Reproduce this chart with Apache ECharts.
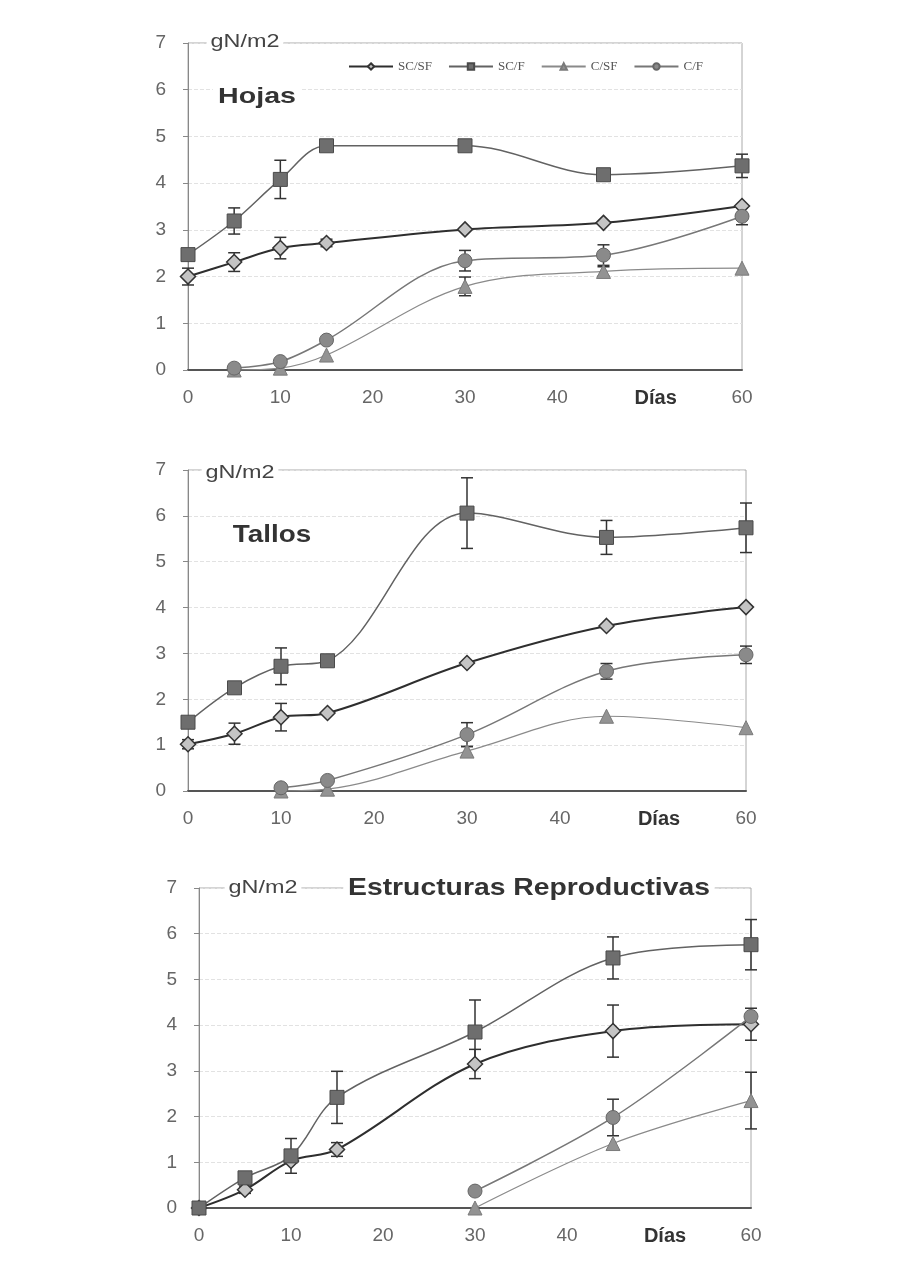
<!DOCTYPE html>
<html><head><meta charset="utf-8">
<script src="https://cdn.jsdelivr.net/npm/echarts@6/dist/echarts.min.js"></script>
<style>html,body{margin:0;padding:0;background:#fff}#c{width:916px;height:1270px}</style>
</head><body><div id="c"></div>
<script>
// ---------------- data ----------------
const days = [0, 5, 10, 15, 30, 45, 60];
const xTickValues = [0, 10, 20, 30, 40, 50, 60];
const xTickLabels = ['0', '10', '20', '30', '40', 'Días', '60'];
const seriesNames = ['SC/SF', 'SC/F', 'C/SF', 'C/F'];
const panelTitles = ['Hojas', 'Tallos', 'Estructuras Reproductivas'];
const yUnit = 'gN/m2';

// Hojas
const hojasSCSF    = [2.00, 2.31, 2.61, 2.72, 3.01, 3.15, 3.51];
const hojasSCSFErr = [0.18, 0.20, 0.23, 0.08, null, null, null];
const hojasSCF     = [2.47, 3.19, 4.08, 4.80, 4.80, 4.18, 4.37];
const hojasSCFErr  = [0.10, 0.28, 0.41, null, null, null, 0.25];
const hojasCSF     = [null, 0.00, 0.04, 0.32, 1.79, 2.11, 2.18];
const hojasCSFErr  = [null, null, null, null, 0.20, 0.10, null];
const hojasCF      = [null, 0.04, 0.18, 0.64, 2.34, 2.46, 3.29];
const hojasCFErr   = [null, null, null, null, 0.22, 0.22, 0.18];

// Tallos
const tallosSCSF    = [1.02, 1.25, 1.61, 1.70, 2.79, 3.60, 4.01];
const tallosSCSFErr = [0.10, 0.23, 0.30, null, null, null, null];
const tallosSCF     = [1.50, 2.25, 2.72, 2.84, 6.06, 5.53, 5.74];
const tallosSCFErr  = [null, null, 0.40, null, 0.77, 0.37, 0.54];
const tallosCSF     = [null, null, 0.00, 0.04, 0.87, 1.63, 1.38];
const tallosCSFErr  = [null, null, null, null, 0.10, null, null];
const tallosCF      = [null, null, 0.07, 0.23, 1.23, 2.61, 2.97];
const tallosCFErr   = [null, null, null, null, 0.26, 0.17, 0.19];

// Estructuras Reproductivas
const erSCSF    = [0.00, 0.40, 1.03, 1.28, 3.15, 3.87, 4.02];
const erSCSFErr = [null, 0.08, null, 0.15, 0.32, 0.57, 0.35];
const erSCF     = [0.00, 0.66, 1.14, 2.42, 3.85, 5.47, 5.76];
const erSCFErr  = [null, null, 0.38, 0.57, 0.70, 0.46, 0.55];
const erCSF     = [null, null, null, null, 0.00, 1.41, 2.35];
const erCSFErr  = [null, null, null, null, null, null, 0.62];
const erCF      = [null, null, null, null, 0.37, 1.98, 4.19];
const erCFErr   = [null, null, null, null, null, 0.40, null];

const panelValues = [
  [hojasSCSF, hojasSCF, hojasCSF, hojasCF],
  [tallosSCSF, tallosSCF, tallosCSF, tallosCF],
  [erSCSF, erSCF, erCSF, erCF]
];
const panelErrors = [
  [hojasSCSFErr, hojasSCFErr, hojasCSFErr, hojasCFErr],
  [tallosSCSFErr, tallosSCFErr, tallosCSFErr, tallosCFErr],
  [erSCSFErr, erSCFErr, erCSFErr, erCFErr]
];

// ---------------- layout / style ----------------
const grids = [
  {left: 188, top: 43,  width: 554, height: 327},
  {left: 188, top: 470, width: 558, height: 321},
  {left: 199, top: 888, width: 552, height: 320}
];
const seriesStyle = [
  {symbol: 'diamond',  size: 15, fill: '#c4c4c4', border: '#333', bw: 1.5, line: '#2e2e2e', lw: 2},
  {symbol: 'rect',     size: 14, fill: '#6e6e6e', border: '#4a4a4a', bw: 1, line: '#626262', lw: 1.5},
  {symbol: 'triangle', size: 14, fill: '#939393', border: '#7a7a7a', bw: 1, line: '#8a8a8a', lw: 1.2},
  {symbol: 'circle',   size: 14, fill: '#8a8a8a', border: '#666', bw: 1, line: '#777', lw: 1.5}
];
const FONT = 'Liberation Sans, Arial, sans-serif';

function pairs(vals) {
  return days.map((d, i) => vals[i] == null ? null : [d, vals[i]]).filter(p => p);
}
function errPairs(vals, e) {
  return days.map((d, i) => (vals[i] == null || e[i] == null) ? null : [d, vals[i] - e[i], vals[i] + e[i]]).filter(p => p);
}

const xAxes = [], yAxes = [], series = [];
grids.forEach((g, p) => {
  xAxes.push({
    type: 'value', gridIndex: p, min: 0, max: 60, interval: 10,
    axisLine: {show: true, onZero: false, lineStyle: {color: '#555', width: 2}},
    axisTick: {show: false},
    splitLine: {show: false},
    axisLabel: {
      margin: 18, color: '#666', fontSize: 19, fontFamily: FONT,
      formatter: v => {
        const idx = xTickValues.indexOf(v);
        const t = idx >= 0 ? xTickLabels[idx] : '';
        return t === 'Días' ? '{d|' + t + '}' : t;
      },
      rich: {d: {fontWeight: 'bold', fontSize: 20, color: '#333', fontFamily: FONT, padding: [0, 0, 0, 12]}}
    }
  });
  yAxes.push({
    type: 'value', gridIndex: p, min: 0, max: 7, interval: 1,
    axisLine: {show: true, lineStyle: {color: '#888', width: 1}},
    axisTick: {show: true, length: 5, lineStyle: {color: '#888'}},
    splitLine: {show: true, lineStyle: {color: '#e2e2e2', type: 'dashed', width: 1}},
    axisLabel: {margin: 22, color: '#666', fontSize: 19, fontFamily: FONT}
  });
  seriesNames.forEach((name, s) => {
    const st = seriesStyle[s];
    series.push({
      type: 'custom', name: name + ' err', xAxisIndex: p, yAxisIndex: p, z: 1,
      data: errPairs(panelValues[p][s], panelErrors[p][s]),
      encode: {x: 0, y: [1, 2]},
      silent: true,
      renderItem: (params, api) => {
        const x = api.value(0);
        const lo = api.coord([x, api.value(1)]);
        const hi = api.coord([x, api.value(2)]);
        const hw = 6;
        const style = {stroke: '#333', lineWidth: 1.5};
        return {type: 'group', children: [
          {type: 'line', shape: {x1: lo[0], y1: lo[1], x2: hi[0], y2: hi[1]}, style},
          {type: 'line', shape: {x1: lo[0] - hw, y1: lo[1], x2: lo[0] + hw, y2: lo[1]}, style},
          {type: 'line', shape: {x1: hi[0] - hw, y1: hi[1], x2: hi[0] + hw, y2: hi[1]}, style}
        ]};
      }
    });
    series.push({
      type: 'line', name: name, xAxisIndex: p, yAxisIndex: p, z: 3 + s,
      data: pairs(panelValues[p][s]),
      smooth: 0.35,
      symbol: st.symbol, symbolSize: st.size, showSymbol: true,
      lineStyle: {color: st.line, width: st.lw},
      itemStyle: {color: st.fill, borderColor: st.border, borderWidth: st.bw}
    });
  });
});

const unitPos = [[245, 42], [240, 473], [263, 888]];
const titlePos = [
  {x: 257, y: 97, size: 22, sx: 1.3},
  {x: 272, y: 535, size: 24, sx: 1.16},
  {x: 529, y: 888, size: 24, sx: 1.18}
];
const graphics = [];
grids.forEach((g, p) => {
  graphics.push({
    type: 'text', x: unitPos[p][0], y: unitPos[p][1], scaleX: 1.3, z: 50,
    style: {text: yUnit, fill: '#444', fontSize: 18, fontFamily: FONT,
            align: 'center', verticalAlign: 'middle', backgroundColor: '#fff', padding: [2, 3]}
  });
  const t = titlePos[p];
  graphics.push({
    type: 'text', x: t.x, y: t.y, scaleX: t.sx, z: 50,
    style: {text: panelTitles[p], fill: '#333', fontSize: t.size, fontWeight: 'bold', fontFamily: FONT,
            align: 'center', verticalAlign: 'middle', backgroundColor: '#fff', padding: [2, 4]}
  });
});

const chart = echarts.init(document.getElementById('c'), null, {renderer: 'canvas'});
chart.setOption({
  backgroundColor: '#fff',
  animation: false,
  grid: grids.map(g => Object.assign({show: true, borderColor: '#aaa', borderWidth: 1, backgroundColor: 'transparent', containLabel: false}, g)),
  xAxis: xAxes,
  yAxis: yAxes,
  legend: {
    data: seriesNames, left: 343, top: 55, itemWidth: 44, itemHeight: 8, itemGap: 16,
    textStyle: {fontFamily: 'Liberation Serif, Times New Roman, serif', fontSize: 13, color: '#555'}
  },
  series: series,
  graphic: graphics
});
</script>
</body></html>
